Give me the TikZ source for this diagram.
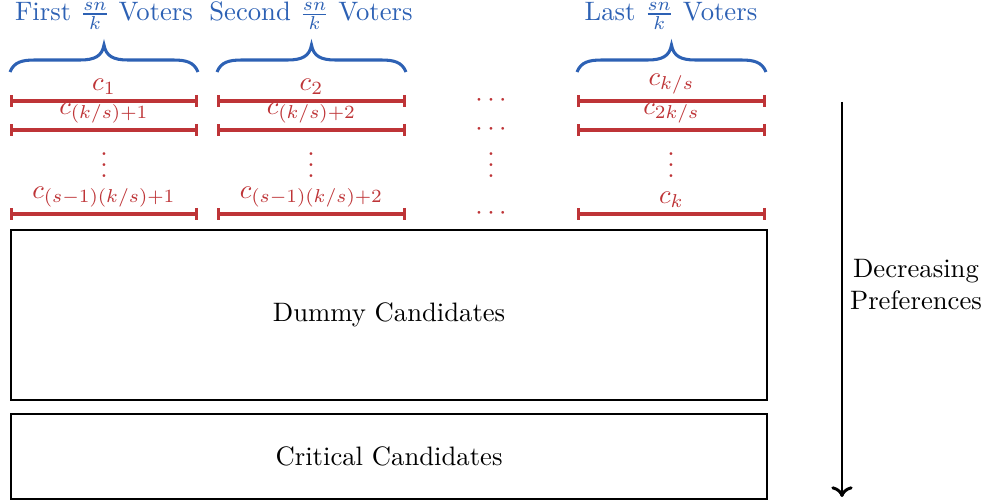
\documentclass[tikz,border=0pt]{standalone}
\usetikzlibrary{arrows.meta}
\definecolor{vblue}{RGB}{45,97,180}
\definecolor{cred}{RGB}{190,52,55}
\begin{document}
\begin{tikzpicture}[x=0.375pt,y=-0.375pt,
  ttl/.style={text=vblue, inner sep=0pt},
  brc/.style={vblue, line width=1.15pt},
  bar/.style={cred, line width=1.2pt, {Bar[width=4.5pt]}-{Bar[width=4.5pt]}},
  lab/.style={text=cred, anchor=south, inner sep=1.8pt},
  dts/.style={text=cred, inner sep=0pt},
  box/.style={draw, line width=0.8pt, anchor=north west, inner sep=0pt},
  arr/.style={line width=1.1pt, -{To[length=4pt,width=8pt]}}]
\useasboundingbox (0,0) rectangle (985,503);
% titles
\node[ttl] (t1) at (104,16) {First $\frac{sn}{k}$ Voters};
\node[ttl] (t2) at (311,16) {Second $\frac{sn}{k}$ Voters};
\node[ttl] (t3) at (671,16) {Last $\frac{sn}{k}$ Voters};
% braces
\foreach \l/\r in {10/198, 217/406, 577/766}{
  \pgfmathsetmacro{\m}{(\l+\r)/2}
  \draw[brc] (\l,72) .. controls (\l+4,62) and (\l+12,60) .. (\l+25,60)
    -- (\m-24,60) .. controls (\m-9,60) and (\m-2,56) .. (\m,45)
    .. controls (\m+2,56) and (\m+9,60) .. (\m+24,60)
    -- (\r-25,60) .. controls (\r-12,60) and (\r-4,62) .. (\r,72);
}
% row coordinates
\foreach \n/\y in {a/101,b/130,d/214}{
  \coordinate (\n1l) at (10,\y); \coordinate (\n1r) at (198,\y);
  \coordinate (\n2l) at (217,\y); \coordinate (\n2r) at (406,\y);
  \coordinate (\n4l) at (577,\y); \coordinate (\n4r) at (766,\y);
}
% column 1
\draw[bar] (a1l) -- node[lab] (la1) {$c_1$} (a1r);
\draw[bar] (b1l) -- node[lab] (lb1) {$c_{(k/s)+1}$} (b1r);
\node[dts] (v1) at (104,157) {$\vdots$};
\draw[bar] (d1l) -- node[lab] (ld1) {$c_{(s-1)(k/s)+1}$} (d1r);
% column 2
\draw[bar] (a2l) -- node[lab] (la2) {$c_2$} (a2r);
\draw[bar] (b2l) -- node[lab] (lb2) {$c_{(k/s)+2}$} (b2r);
\node[dts] (v2) at (311,157) {$\vdots$};
\draw[bar] (d2l) -- node[lab] (ld2) {$c_{(s-1)(k/s)+2}$} (d2r);
% dots column
\node[dts] (h1) at (491,101) {$\cdots$};
\node[dts] (h2) at (491,130) {$\cdots$};
\node[dts] (v3) at (491,157) {$\vdots$};
\node[dts] (h3) at (491,214) {$\cdots$};
% last column
\draw[bar] (a4l) -- node[lab] (la4) {$c_{k/s}$} (a4r);
\draw[bar] (b4l) -- node[lab] (lb4) {$c_{2k/s}$} (b4r);
\node[dts] (v4) at (671,157) {$\vdots$};
\draw[bar] (d4l) -- node[lab] (ld4) {$c_k$} (d4r);
% boxes
\node[box, minimum width=283.5pt, minimum height=63.75pt] (dummy) at (10,229) {};
\node (dummyt) at (dummy.center) {Dummy Candidates};
\node[box, minimum width=283.5pt, minimum height=31.9pt] (crit) at (10,413) {};
\node (critt) at (crit.center) {Critical Candidates};
% arrow
\coordinate (as) at (842,102); \coordinate (ae) at (842,497);
\draw[arr] (as) -- (ae);
\node[align=center, inner sep=0pt] (dec) at (916,285) {Decreasing\\Preferences};
\end{tikzpicture}
\end{document}
